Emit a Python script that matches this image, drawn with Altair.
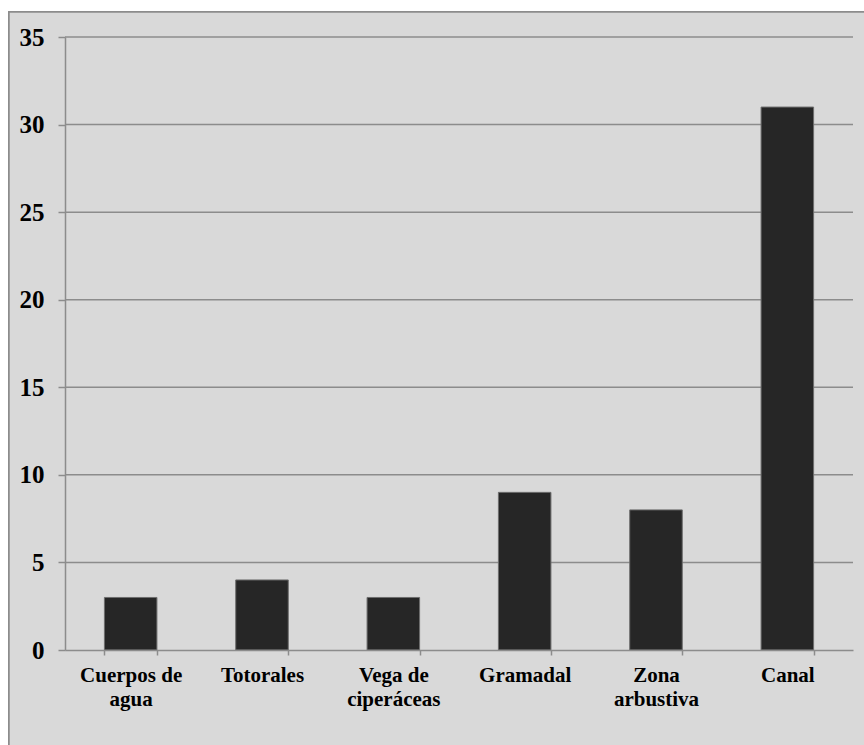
import altair as alt
import pandas as pd

categories = ["Cuerpos de agua", "Totorales", "Vega de ciperáceas", "Gramadal", "Zona arbustiva", "Canal"]
label_lines = [["Cuerpos de", "agua"], ["Totorales"], ["Vega de", "ciperáceas"], ["Gramadal"], ["Zona", "arbustiva"], ["Canal"]]
values = [3, 4, 3, 9, 8, 31]
y_ticks = [0, 5, 10, 15, 20, 25, 30, 35]

df = pd.DataFrame({"cat": categories, "val": values})
grid_df = pd.DataFrame({"val": y_ticks[1:]})

label_expr = "{" + ", ".join(
    f"'{c}': {lines!r}" for c, lines in zip(categories, label_lines)
) + "}[datum.value]"

FONT = "Liberation Serif"
GRID = "#8c8c8c"

y_scale = alt.Scale(domain=[0, 35], nice=False)
y_axis = alt.Axis(
    values=y_ticks, labelFont=FONT, labelFontWeight="bold", labelFontSize=25,
    labelColor="black", labelPadding=14, domainColor=GRID, domainWidth=1.5,
    tickColor=GRID, tickWidth=1.5, tickSize=7, grid=False, zindex=1,
)

frame = alt.Chart(df).mark_rect(
    fill="#d9d9d9", stroke="#8c8c8c", strokeWidth=1.5, clip=False
).encode(
    x=alt.value(-56), x2=alt.value(830), y=alt.value(-25), y2=alt.value(740)
)

grid = alt.Chart(grid_df).mark_rule(color=GRID, strokeWidth=1.5).encode(
    y=alt.Y("val:Q", title=None, scale=y_scale, axis=y_axis)
)

bars = alt.Chart(df).mark_bar(
    color="#262626", stroke="#6e6e6e", strokeWidth=1
).encode(
    x=alt.X(
        "cat:N", sort=categories, title=None,
        scale=alt.Scale(paddingInner=0.6, paddingOuter=0.3),
        axis=alt.Axis(
            labelExpr=label_expr, labelAngle=0, labelFont=FONT, labelFontWeight="bold",
            labelFontSize=21, labelColor="black", labelLineHeight=24, labelPadding=9,
            labelBaseline="top",
            domainColor=GRID, domainWidth=1.5, tickColor=GRID, tickWidth=1.5, tickSize=5,
            tickBand="extent", grid=False, zindex=1,
        ),
    ),
    y=alt.Y("val:Q", title=None, scale=y_scale, axis=y_axis),
)

chart = alt.layer(frame, grid, bars).properties(
    width=788, height=613,
    autosize=alt.AutoSizeParams(type="none"),
    padding={"left": 65, "top": 37, "right": 11, "bottom": 95},
    background="white",
).configure_view(stroke=None)

chart.save("out.html", embed_options={"renderer": "svg", "actions": False})
